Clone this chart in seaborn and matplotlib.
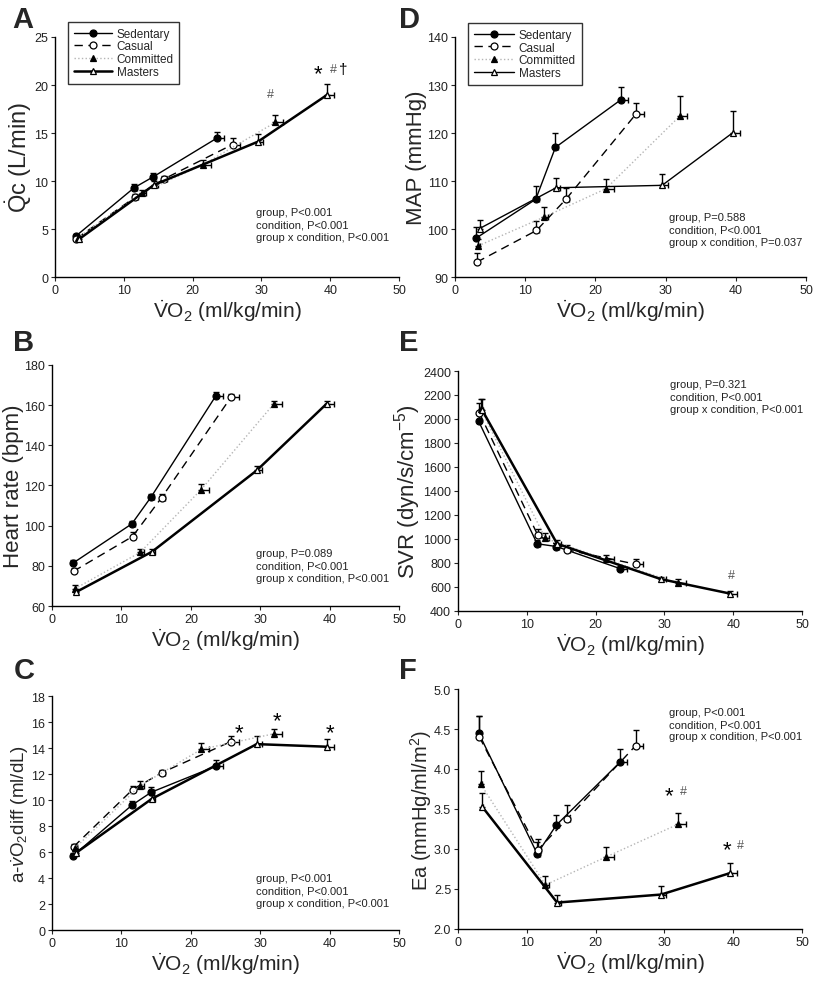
import matplotlib
matplotlib.use("Agg")
import matplotlib.pyplot as plt
from matplotlib import font_manager
import seaborn as sns
import numpy as np

# groups, in plotting order
groups = ["Sedentary", "Casual", "Committed", "Masters"]

# VO2 (ml/kg/min): rest + 3 workloads, one row per group
vo2 = [[3.0, 11.5, 14.3, 23.6],
       [3.1, 11.6, 15.8, 25.8],
       [3.3, 12.7, 21.5, 32.0],
       [3.5, 14.4, 29.5, 39.6]]
vo2_err = [[0.2, 0.4, 0.4, 1.0],
           [0.2, 0.4, 0.5, 1.1],
           [0.2, 0.5, 1.1, 1.1],
           [0.2, 0.5, 0.8, 1.0]]

# A: cardiac output (L/min)
qc = [[4.25, 9.3, 10.45, 14.5],
      [4.0, 8.3, 10.2, 13.8],
      [4.1, 8.8, 11.7, 16.1],
      [3.95, 9.6, 14.1, 19.0]]
qc_err = [[0.2, 0.35, 0.4, 0.6],
          [0.2, 0.3, 0.3, 0.65],
          [0.2, 0.3, 0.5, 0.75],
          [0.2, 0.4, 0.75, 1.1]]

# B: heart rate (bpm)
hr = [[81.3, 100.9, 114.4, 164.6],
      [77.3, 94.6, 114.0, 164.0],
      [68.6, 86.7, 118.0, 160.8],
      [67.0, 87.0, 127.5, 160.8]]
hr_err = [[1.5, 1.5, 1.5, 1.8],
          [1.5, 2.0, 2.0, 1.8],
          [2.0, 1.5, 2.8, 1.5],
          [1.5, 1.5, 2.2, 1.5]]

# C: a-vO2 difference (ml/dL)
avo2 = [[5.7, 9.6, 10.6, 12.6],
        [6.4, 10.8, 12.1, 14.5],
        [6.3, 11.1, 13.9, 15.1],
        [5.95, 10.1, 14.3, 14.1]]
avo2_err = [[0.2, 0.3, 0.4, 0.5],
            [0.2, 0.3, 0.2, 0.4],
            [0.25, 0.4, 0.5, 0.35],
            [0.3, 0.3, 0.6, 0.6]]

# D: mean arterial pressure (mmHg)
mapr = [[98.1, 106.2, 117.0, 126.9],
        [93.1, 99.7, 106.2, 124.0],
        [96.5, 102.5, 108.4, 123.5],
        [100.1, 108.6, 109.1, 120.1]]
mapr_err = [[2.3, 2.7, 3.0, 2.6],
            [1.9, 1.9, 2.3, 2.3],
            [1.5, 2.0, 2.1, 4.2],
            [1.8, 2.1, 2.3, 4.4]]

# E: systemic vascular resistance
svr = [[1980, 960, 937, 752],
       [2050, 1030, 910, 790],
       [2080, 1005, 830, 630],
       [2075, 960, 665, 544]]
svr_err = [[60, 30, 30, 20],
           [80, 50, 40, 45],
           [85, 45, 40, 40],
           [90, 35, 20, 25]]

# F: arterial elastance
ea = [[4.45, 2.94, 3.30, 4.09],
      [4.40, 2.99, 3.37, 4.29],
      [3.81, 2.55, 2.90, 3.31],
      [3.53, 2.33, 2.43, 2.70]]
ea_err = [[0.21, 0.15, 0.13, 0.16],
          [0.26, 0.14, 0.18, 0.20],
          [0.17, 0.11, 0.13, 0.14],
          [0.17, 0.09, 0.11, 0.13]]

stats_a = "group, P<0.001\ncondition, P<0.001\ngroup x condition, P<0.001"
stats_b = "group, P=0.089\ncondition, P<0.001\ngroup x condition, P<0.001"
stats_c = "group, P<0.001\ncondition, P<0.001\ngroup x condition, P<0.001"
stats_d = "group, P=0.588\ncondition, P<0.001\ngroup x condition, P=0.037"
stats_e = "group, P=0.321\ncondition, P<0.001\ngroup x condition, P<0.001"
stats_f = "group, P<0.001\ncondition, P<0.001\ngroup x condition, P<0.001"

sns.set_style("ticks")
plt.rcParams['font.family'] = ['Liberation Sans', 'DejaVu Sans']
plt.rcParams['mathtext.fontset'] = 'custom'

# the original looks horizontally squeezed, so use the narrow face where we can
installed = {f.name for f in font_manager.fontManager.ttflist}
NARROW = 'Liberation Sans Narrow' if 'Liberation Sans Narrow' in installed else 'Liberation Sans'
plt.rcParams['mathtext.rm'] = 'Liberation Sans'
plt.rcParams['mathtext.it'] = 'Liberation Sans:italic'
plt.rcParams['mathtext.bf'] = 'Liberation Sans:bold'

styles = {
    "Sedentary": dict(linestyle='-', lw=1.0, color='black', marker='o', markerfacecolor='black'),
    "Casual": dict(linestyle=(0, (6, 4)), lw=1.0, color='black', marker='o', markerfacecolor='white'),
    "Committed": dict(linestyle=':', lw=1.0, color='#b5b5b5', marker='^', markerfacecolor='black'),
    "Masters": dict(linestyle='-', lw=1.8, color='black', marker='^', markerfacecolor='white'),
}

XLAB = r'$\dot{\mathrm{V}}$O$_2$ (ml/kg/min)'


def draw_panel(ax, vals, errs, ylim, yticks, ylabel, ylab_size=16, masters_lw=1.8):
    for i, g in enumerate(groups):
        x = np.array(vo2[i])
        y = np.array(vals[i])
        ax.errorbar(x, y, yerr=[np.zeros(4), errs[i]], xerr=[np.zeros(4), vo2_err[i]],
                    fmt='none', ecolor='black', elinewidth=1.0, capsize=2.5, capthick=1.0,
                    zorder=2)
        kw = dict(styles[g])
        if g == "Masters":
            kw['lw'] = masters_lw
        sns.lineplot(x=x, y=y, ax=ax, sort=False, markersize=5, markeredgecolor='black',
                     markeredgewidth=0.9, label=g, zorder=3, **kw)
    ax.set_xlim(0, 50)
    ax.set_xticks([0, 10, 20, 30, 40, 50])
    ax.set_ylim(*ylim)
    ax.set_yticks(yticks)
    ax.set_xlabel(XLAB, fontsize=15, labelpad=1, family=NARROW)
    ax.set_ylabel(ylabel, fontsize=ylab_size, labelpad=0)
    ax.tick_params(labelsize=9, length=3, width=0.8, direction='out', pad=2)
    for lab in ax.get_xticklabels() + ax.get_yticklabels():
        lab.set_family(NARROW)
        lab.set_color('#222222')
    for s in ['left', 'bottom']:
        ax.spines[s].set_linewidth(1.0)
        ax.spines[s].set_color('black')
    sns.despine(ax=ax)
    if ax.get_legend() is not None:
        ax.get_legend().remove()


fig = plt.figure(figsize=(8.14, 9.87), dpi=100)
axA = fig.add_axes([0.0676, 0.7183, 0.4226, 0.2432])
axD = fig.add_axes([0.5590, 0.7183, 0.4312, 0.2432])
axB = fig.add_axes([0.0639, 0.3850, 0.4263, 0.2442])
axE = fig.add_axes([0.5627, 0.3800, 0.4226, 0.2431])
axC = fig.add_axes([0.0639, 0.0567, 0.4263, 0.2371])
axF = fig.add_axes([0.5627, 0.0578, 0.4226, 0.2431])

draw_panel(axA, qc, qc_err, (0, 25), np.arange(0, 26, 5), r'$\dot{\mathrm{Q}}$c (L/min)', 17)
draw_panel(axB, hr, hr_err, (60, 180), np.arange(60, 181, 20), 'Heart rate (bpm)', 16)
draw_panel(axC, avo2, avo2_err, (0, 18), np.arange(0, 19, 2),
           r'a-$\dot{\mathit{v}}$O$_2$diff (ml/dL)', 13.5)
draw_panel(axD, mapr, mapr_err, (90, 140), np.arange(90, 141, 10), 'MAP (mmHg)', 16,
           masters_lw=1.0)
draw_panel(axE, svr, svr_err, (400, 2400), np.arange(400, 2401, 200),
           r'SVR (dyn/s/cm$^{-5}$)', 16)
draw_panel(axF, ea, ea_err, (2.0, 5.0), np.arange(2.0, 5.01, 0.5), r'Ea (mmHg/ml/m$^2$)', 14.5)
axF.yaxis.set_major_formatter(matplotlib.ticker.FormatStrFormatter('%.1f'))
for lab in axF.get_yticklabels():
    lab.set_family(NARROW)

# legends (A and D)
for ax, anchor, hl in [(axA, (0.038, 1.0625), 3.2), (axD, (0.037, 1.058), 3.4)]:
    handles, labels = ax.get_legend_handles_labels()
    leg = ax.legend(handles[:4], labels[:4], loc='upper left', bbox_to_anchor=anchor,
                    borderaxespad=0, fontsize=8.5, handlelength=hl, handletextpad=0.4,
                    labelspacing=0.05, frameon=True, fancybox=False, borderpad=0.5)
    leg.get_frame().set_edgecolor('black')
    leg.get_frame().set_linewidth(1.0)

# stats text
stat_kw = dict(fontsize=8, va='top', ha='left', linespacing=1.3, color='#222222')
axA.text(29.2, 7.3, stats_a, **stat_kw)
axB.text(29.4, 89.0, stats_b, **stat_kw)
axC.text(29.4, 4.4, stats_c, **stat_kw)
axD.text(30.5, 103.5, stats_d, **stat_kw)
axE.text(30.8, 2330, stats_e, **stat_kw)
axF.text(30.6, 4.78, stats_f, **stat_kw)

# significance markers
star_kw = dict(fontsize=16, ha='center', va='center', color='black')
hash_kw = dict(fontsize=9, ha='center', va='center', color='#555555')
axA.text(38.2, 21.2, '*', **star_kw)
axA.text(40.4, 21.7, '#', **hash_kw)
axA.text(41.9, 21.7, '†', fontsize=11, ha='center', va='center', color='black')
axA.text(31.3, 19.1, '#', **hash_kw)

axC.text(27.0, 15.2, '*', **star_kw)
axC.text(32.4, 16.1, '*', **star_kw)
axC.text(40.0, 15.2, '*', **star_kw)

axE.text(39.7, 700, '#', **hash_kw)

axF.text(30.6, 3.66, '*', **star_kw)
axF.text(32.7, 3.72, '#', **hash_kw)
axF.text(39.1, 2.99, '*', **star_kw)
axF.text(41.0, 3.05, '#', **hash_kw)

# panel letters
let_kw = dict(fontsize=21, fontweight='bold', va='top', ha='left')
fig.text(12 / 814, 1 - 6 / 987, 'A', **let_kw)
fig.text(399 / 814, 1 - 6 / 987, 'D', **let_kw)
fig.text(13 / 814, 1 - 329 / 987, 'B', **let_kw)
fig.text(399 / 814, 1 - 329 / 987, 'E', **let_kw)
fig.text(14 / 814, 1 - 657 / 987, 'C', **let_kw)
fig.text(399 / 814, 1 - 657 / 987, 'F', **let_kw)

fig.savefig('out.png', dpi=100)
